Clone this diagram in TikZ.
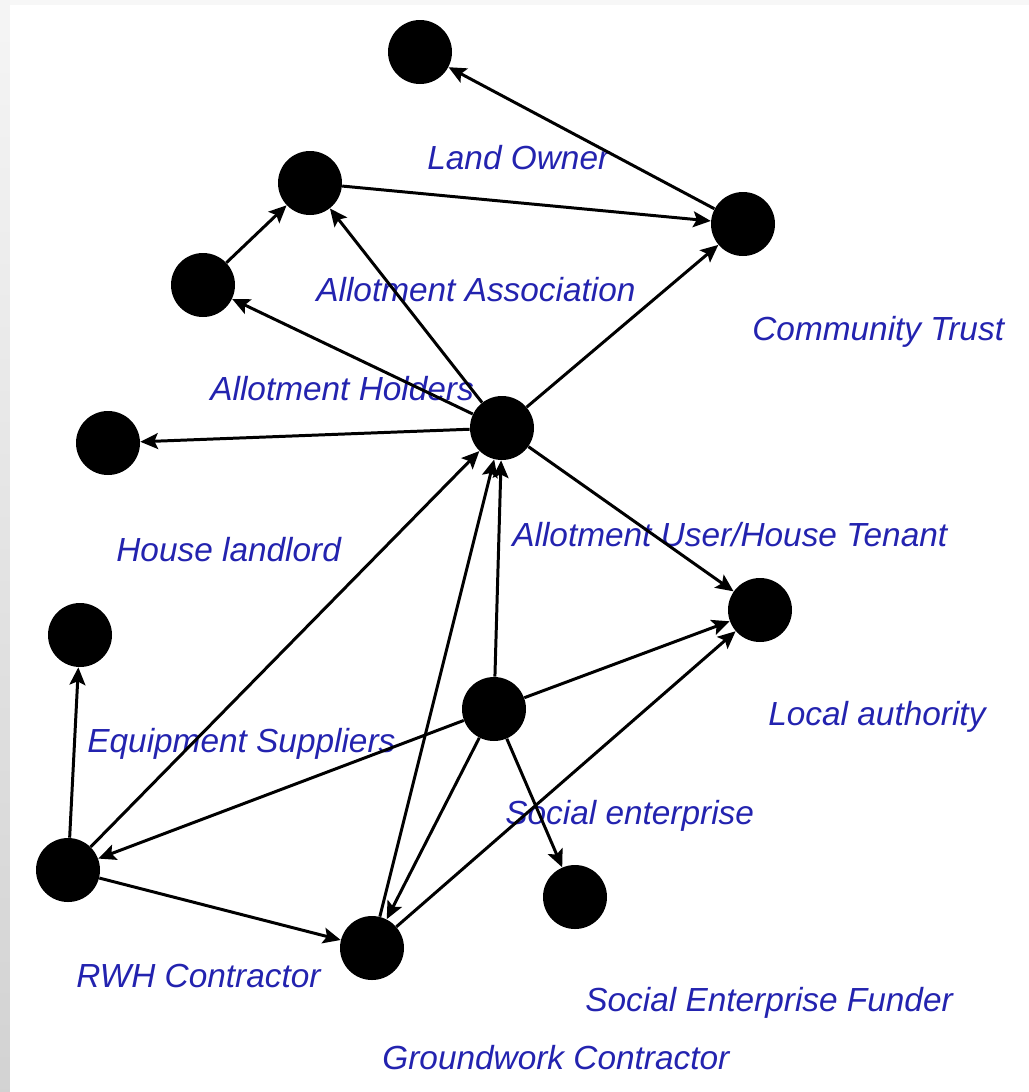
\documentclass[tikz,border=0pt]{standalone}
\usepackage{fontspec}
\setmainfont{Liberation Sans}
\usetikzlibrary{arrows.meta}
\definecolor{labelblue}{RGB}{35,35,175}

\begin{document}
\begin{tikzpicture}[
  actor/.style={circle,fill=black,minimum size=1.28cm,inner sep=0pt},
  tag/.style={anchor=west,inner sep=0pt,text=labelblue,font=\fontsize{19}{22}\selectfont\itshape},
  link/.style={line width=1.7pt,-{Stealth[length=10pt,width=9pt,inset=2pt]}}]
\useasboundingbox (0,0) rectangle (20.58,-21.84);
\shade[top color=gray!8,bottom color=gray!35] (0,0) rectangle (0.2,-21.84);
\fill[gray!6] (0.2,0) rectangle (20.58,-0.1);
% actors
\node[actor] (owner) at (8.4,-1.04) {};
\node[actor] (assoc) at (6.2,-3.66) {};
\node[actor] (holders) at (4.06,-5.7) {};
\node[actor] (trust) at (14.86,-4.48) {};
\node[actor] (landlord) at (2.16,-8.86) {};
\node[actor] (tenant) at (10.04,-8.56) {};
\node[actor] (council) at (15.2,-12.2) {};
\node[actor] (supplier) at (1.6,-12.7) {};
\node[actor] (socent) at (9.88,-14.18) {};
\node[actor] (rwh) at (1.36,-17.4) {};
\node[actor] (ground) at (7.44,-18.96) {};
\node[actor] (funder) at (11.5,-17.94) {};
% names
\node[tag] (t-owner) at (8.54,-3.16) {Land Owner};
\node[tag] (t-assoc) at (6.32,-5.8) {Allotment Association};
\node[tag] (t-trust) at (15.04,-6.64) {Community Trust};
\node[tag] (t-holders) at (4.2,-7.78) {Allotment Holders};
\node[tag] (t-landlord) at (2.32,-11.0) {House landlord};
\node[tag] (t-tenant) at (10.24,-10.7) {Allotment User/House Tenant};
\node[tag] (t-council) at (15.36,-14.34) {Local authority};
\node[tag] (t-supplier) at (1.74,-14.88) {Equipment Suppliers};
\node[tag] (t-socent) at (10.1,-16.32) {Social enterprise};
\node[tag] (t-rwh) at (1.52,-19.52) {RWH Contractor};
\node[tag] (t-funder) at (11.7,-20.06) {Social Enterprise Funder};
\node[tag] (t-ground) at (7.64,-21.16) {Groundwork Contractor};
% links
\draw[link] (trust) -- (owner);
\draw[link] (assoc) -- (trust);
\draw[link] (holders) -- (assoc);
\draw[link] (tenant) -- (holders);
\draw[link] (tenant) -- (assoc);
\draw[link] (tenant) -- (trust);
\draw[link] (tenant) -- (landlord);
\draw[link] (tenant) -- (council);
\draw[link] (rwh) -- (tenant);
\draw[link] (rwh) -- (supplier);
\draw[link] (rwh) -- (ground);
\draw[link] (ground) -- (tenant);
\draw[link] (ground) -- (council);
\draw[link] (socent) -- (tenant);
\draw[link] (socent) -- (council);
\draw[link] (socent) -- (funder);
\draw[link] (socent) -- (rwh);
\draw[link] (socent) -- (ground);
\end{tikzpicture}
\end{document}
